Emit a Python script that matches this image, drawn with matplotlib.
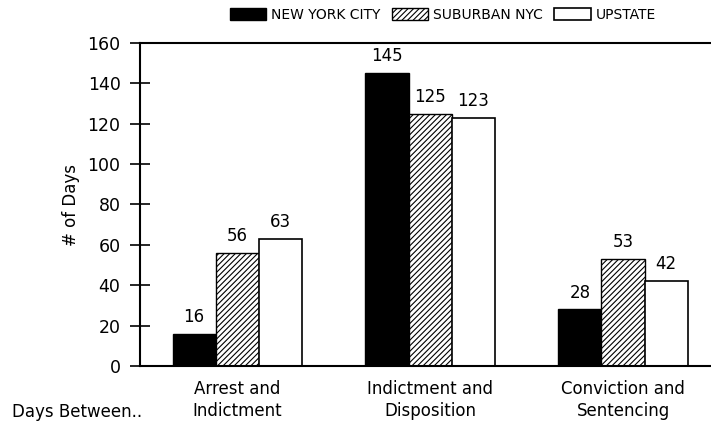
import numpy as np
import matplotlib.pyplot as plt

# data
categories = ["Arrest and\nIndictment", "Indictment and\nDisposition", "Conviction and\nSentencing"]
series_names = ["NEW YORK CITY", "SUBURBAN NYC", "UPSTATE"]
nyc = [16, 145, 28]
suburban = [56, 125, 53]
upstate = [63, 123, 42]

plt.rcParams['font.family'] = ['DejaVu Sans']
plt.rcParams['hatch.linewidth'] = 0.8

fig = plt.figure(figsize=(7.11, 4.21), dpi=100)
# axes placed to match the reference: left spine at x=140, top at y=43, bottom at y=366
ax = fig.add_axes([140 / 711, 1 - 366 / 421, 571 / 711, 323 / 421])

x = np.arange(len(categories))
w = 0.223

b1 = ax.bar(x - w, nyc, w, color="black", edgecolor="black", linewidth=1, label=series_names[0])
b2 = ax.bar(x, suburban, w, color="white", edgecolor="black", linewidth=1, hatch="//////", label=series_names[1])
b3 = ax.bar(x + w, upstate, w, color="white", edgecolor="black", linewidth=1.2, label=series_names[2])

for bars, vals in [(b1, nyc), (b2, suburban), (b3, upstate)]:
    for rect, v in zip(bars, vals):
        ax.annotate(str(v), (rect.get_x() + rect.get_width() / 2, v),
                    xytext=(0, 8.5), textcoords="offset points",
                    ha="center", va="baseline", fontsize=12)

ax.set_ylim(0, 160)
ax.set_yticks(range(0, 161, 20))
ax.set_xlim(-0.503, 2.456)
ax.set_xticks(x)
ax.set_xticklabels(categories, fontsize=12, linespacing=1.3)
ax.tick_params(axis="y", labelsize=12.5, direction="inout", length=14, width=1.2, pad=7)
ax.tick_params(axis="x", length=0, pad=10)
ax.set_ylabel("# of Days", fontsize=12, labelpad=5)

ax.spines["right"].set_visible(False)
for s in ["left", "top", "bottom"]:
    ax.spines[s].set_linewidth(1.5)

fig.text(12 / 711, 1 - 417 / 421, "Days Between..", fontsize=12, ha="left", va="baseline")

fig.legend(handles=[b1, b2, b3], loc="center", bbox_to_anchor=(443 / 711, 1 - 15 / 421),
           ncol=3, frameon=False, fontsize=10, handlelength=2.6, handleheight=1.0,
           columnspacing=0.8, handletextpad=0.4)

fig.savefig("out.png", dpi=100)
